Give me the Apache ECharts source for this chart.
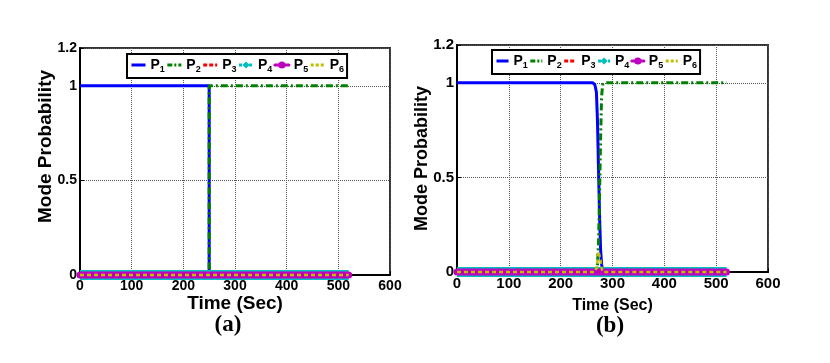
<!DOCTYPE html>
<html>
<head>
<meta charset="utf-8">
<script src="https://cdn.jsdelivr.net/npm/echarts@6/dist/echarts.min.js"></script>
<style>
  html, body { margin: 0; padding: 0; background: #fff; }
  #a, #b { position: absolute; top: 0; height: 363px; }
  #a { left: 0; width: 415px; }
  #b { left: 395px; width: 435px; }
</style>
</head>
<body>
<div id="a"></div>
<div id="b"></div>
<script>
// names
const names = ['P1', 'P2', 'P3', 'P4', 'P5', 'P6']
const colors = ['#0000ff', '#008000', '#ff0000', '#00bfbf', '#bf00bf', '#bfbf00']

// panel (a): hard switch at 250 s
const timeA = [0, 250, 250, 520]
const p1A = [1, 1, 0, 0]
const p2A = [0, 0, 1, 1]
const p3A = [0, 0, 0, 0]
const p4A = [0, 0, 0, 0]
const p5A = [0, 0, 0, 0]
const p6A = [0, 0, 0, 0]

// panel (b): smooth switch near 275 s
const timeB = [0, 262, 266, 269, 271, 273, 275, 277, 279, 281, 285, 520]
const p1B = [1, 1, 0.99, 0.95, 0.8, 0.55, 0.3, 0.12, 0.04, 0.01, 0, 0]
const p2B = [0, 0, 0, 0.01, 0.04, 0.15, 0.4, 0.7, 0.93, 0.99, 1, 1]
const p3B = [0, 0, 0, 0, 0, 0, 0, 0, 0, 0, 0, 0]
const p4B = [0, 0, 0, 0, 0, 0, 0, 0, 0, 0, 0, 0]
const p5B = [0, 0, 0, 0, 0, 0, 0, 0, 0, 0, 0, 0]
const p6B = [0, 0, 0, 0.02, 0.06, 0.11, 0.12, 0.06, 0.02, 0, 0, 0]

const xTicks = { min: 0, max: 600, interval: 100 }
const yTicks = { min: 0, max: 1.2, interval: 0.5 }

const zip = (t, v) => t.map((x, i) => [x, v[i]])

// plot styles per series
const lineStyles = [
    { width: 3, type: 'solid' },
    { width: 3, type: [7, 3, 2, 3] },
    { width: 3, type: [6, 3] },
    { width: 10, type: 'solid' },
    { width: 7, type: 'solid', cap: 'round' },
    { width: 2.5, type: [4, 3] }
]
const symbols = ['none', 'none', 'none', 'diamond', 'circle', 'none']

// legend look (markers only on P4, P5)
const legendItems = [
    { name: 'P1', itemStyle: { opacity: 0 }, lineStyle: { width: 3, type: 'solid' } },
    { name: 'P2', itemStyle: { opacity: 0 }, lineStyle: { width: 3, type: [5, 2, 2, 2] } },
    { name: 'P3', itemStyle: { opacity: 0 }, lineStyle: { width: 3, type: [4, 2] } },
    { name: 'P4', lineStyle: { width: 3, type: [3, 2] } },
    { name: 'P5', lineStyle: { width: 3, type: 'solid' } },
    { name: 'P6', itemStyle: { opacity: 0 }, lineStyle: { width: 3, type: [3, 2] } }
]

function makeOption(cfg) {
    const series = cfg.data.map((d, i) => ({
        name: names[i],
        type: 'line',
        data: zip(cfg.time, d),
        symbol: symbols[i],
        showSymbol: false,
        clip: false,
        color: colors[i],
        lineStyle: Object.assign({ color: colors[i] }, lineStyles[i]),
        animation: false
    }))
    return {
        animation: false,
        textStyle: { fontFamily: 'Arial, "Liberation Sans", sans-serif' },
        grid: {
            left: cfg.grid.left, top: cfg.grid.top, width: cfg.grid.width, height: cfg.grid.height,
            outerBoundsMode: 'none',
            containLabel: false,
            show: true, borderColor: '#333', borderWidth: 2, backgroundColor: '#fff'
        },
        legend: {
            data: legendItems,
            left: cfg.legend.left,
            top: cfg.legend.top,
            orient: 'horizontal',
            itemWidth: cfg.legend.itemWidth,
            itemHeight: 9,
            itemGap: 1,
            padding: [4, 3, 4, 3],
            backgroundColor: '#fff',
            borderColor: '#000',
            borderWidth: 2,
            borderRadius: 0,
            selectedMode: false,
            formatter: n => 'P{s|' + n.slice(1) + '}',
            textStyle: {
                color: '#000',
                fontWeight: 'bold',
                fontSize: cfg.legend.fontSize,
                fontFamily: 'Arial, "Liberation Sans", sans-serif',
                rich: {
                    s: { fontSize: cfg.legend.fontSize - 5, fontWeight: 'bold', color: '#000', padding: [9, 0, 0, 0] }
                }
            }
        },
        xAxis: {
            type: 'value',
            min: xTicks.min, max: xTicks.max, interval: xTicks.interval,
            name: 'Time (Sec)',
            nameLocation: 'middle',
            nameGap: cfg.xNameGap,
            nameMoveOverlap: false,
            nameTextStyle: { color: '#000', fontWeight: 'bold', fontSize: cfg.xNameSize },
            axisLine: { lineStyle: { color: '#000', width: 2 } },
            axisTick: { inside: true, length: 4, lineStyle: { color: '#000' } },
            axisLabel: { color: '#000', fontWeight: 'bold', fontSize: cfg.tickSize, margin: 4 },
            splitLine: { show: true, lineStyle: { color: '#555', type: [1, 1], width: 1 } }
        },
        yAxis: {
            type: 'value',
            min: yTicks.min, max: yTicks.max, interval: yTicks.interval,
            name: 'Mode Probability',
            nameLocation: 'middle',
            nameGap: cfg.yNameGap,
            nameMoveOverlap: false,
            nameTextStyle: { color: '#000', fontWeight: 'bold', fontSize: cfg.yNameSize, padding: cfg.yNamePad },
            axisLine: { show: true, lineStyle: { color: '#000', width: 2 } },
            axisTick: { inside: true, length: 4, lineStyle: { color: '#000' } },
            axisLabel: { color: '#000', fontWeight: 'bold', fontSize: cfg.tickSize, margin: 3 },
            splitLine: { show: true, lineStyle: { color: '#555', type: [1, 1], width: 1 } }
        },
        graphic: [{
            type: 'text',
            x: cfg.caption.x, y: cfg.caption.y,
            style: {
                text: cfg.caption.text,
                font: 'bold 23px "Liberation Serif", "Times New Roman", serif',
                fill: '#000',
                align: 'center',
                verticalAlign: 'middle'
            }
        }],
        series: series
    }
}

const chartA = echarts.init(document.getElementById('a'))
chartA.setOption(makeOption({
    time: timeA,
    data: [p1A, p2A, p3A, p4A, p5A, p6A],
    grid: { left: 80, top: 48, width: 310, height: 227 },
    legend: { left: 127, top: 54, fontSize: 14, itemWidth: 14 },
    xNameGap: 19, xNameSize: 19,
    yNameGap: 25, yNameSize: 19, yNamePad: [0, 0, 0, 30],
    tickSize: 14,
    caption: { text: '(a)', x: 228, y: 325 }
}))

// right div starts at page x = 395
const chartB = echarts.init(document.getElementById('b'))
chartB.setOption(makeOption({
    time: timeB,
    data: [p1B, p2B, p3B, p4B, p5B, p6B],
    grid: { left: 62, top: 45, width: 311, height: 227 },
    legend: { left: 97, top: 50, fontSize: 14, itemWidth: 12 },
    xNameGap: 26, xNameSize: 16,
    yNameGap: 26, yNameSize: 18, yNamePad: [0, 0, 0, 0],
    tickSize: 15,
    caption: { text: '(b)', x: 215, y: 326 }
}))
</script>
</body>
</html>
